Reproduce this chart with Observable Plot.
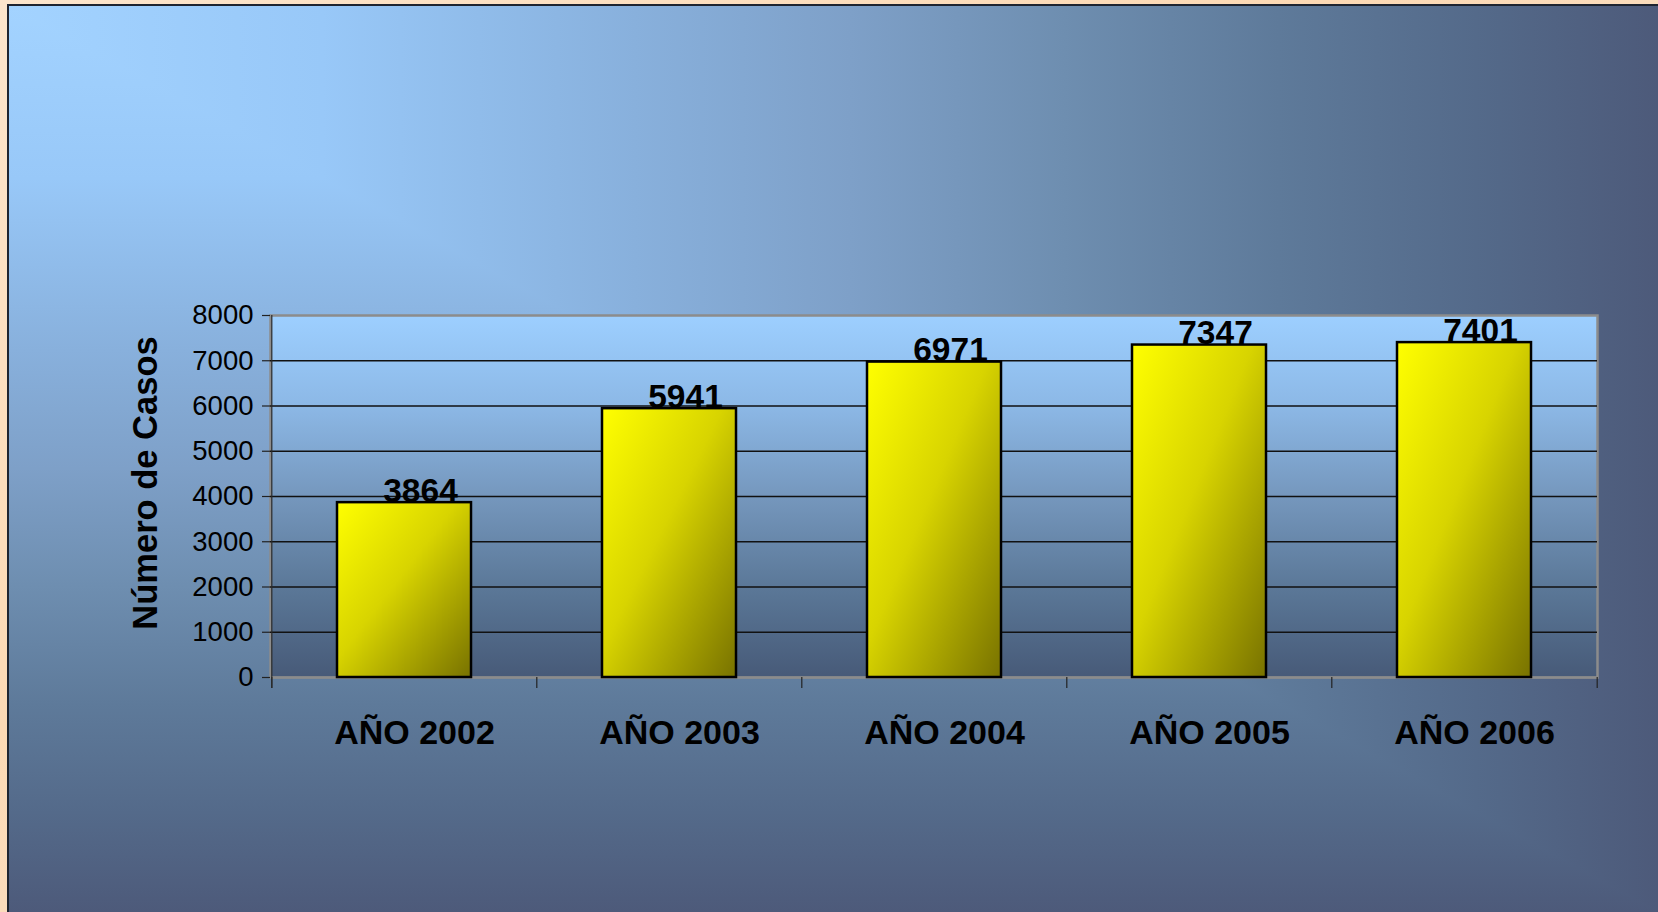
<!DOCTYPE html>
<html>
<head>
<meta charset="utf-8">
<script src="https://cdn.jsdelivr.net/npm/d3@7"></script>
<script src="https://cdn.jsdelivr.net/npm/@observablehq/plot@0.6"></script>
<style>
  html, body { margin: 0; padding: 0; }
  body {
    width: 1658px; height: 912px; overflow: hidden; position: relative;
    background: linear-gradient(to bottom right, #fce5cc 0%, #fcd9b4 40%, #f6ece0 100%);
    font-family: "Liberation Sans", Arial, sans-serif;
  }
  #slide {
    position: absolute; left: 7px; top: 4px; right: 0; bottom: 0;
    border-left: 2px solid #1e2430; border-top: 2px solid #1e2430;
    overflow: hidden;
  }
  .bgpart { position: absolute; left: 0; top: 0; width: 100%; height: 100%; }
  #bgH {
    background: linear-gradient(to right,
      #a3d3ff 0%, #98c8f8 19%, #88b0dc 38%, #7ea0c8 51%, #6e8eb0 64%, #5e7a9a 77%, #546a8a 89%, #4d5a7a 100%);
    clip-path: polygon(0 0, 100% 0, 100% 100%);
  }
  #bgV {
    background: linear-gradient(to bottom,
      #a3d3ff 0%, #98c8f8 19%, #88b0dc 38%, #7ea0c8 51%, #6e8eb0 64%, #5e7a9a 77%, #546a8a 89%, #4d5a7a 100%);
  }
  #chart { position: absolute; left: 0; top: 0; }
  #ytitle {
    position: absolute; left: 145px; top: 483px;
    transform: translate(-50%, -50%) rotate(-90deg);
    font-size: 34.5px; font-weight: bold; color: #000; white-space: nowrap;
  }
</style>
</head>
<body>
<div id="slide"><div class="bgpart" id="bgV"></div><div class="bgpart" id="bgH"></div></div>
<div id="chart"></div>
<div id="ytitle"></div>
<script>
// ---- data ----
const years = ["AÑO 2002", "AÑO 2003", "AÑO 2004", "AÑO 2005", "AÑO 2006"];
const cases = [3864, 5941, 6971, 7347, 7401];
const yTicks = [0, 1000, 2000, 3000, 4000, 5000, 6000, 7000, 8000];
const yTitle = "Número de Casos";

const data = years.map((year, i) => ({year, value: cases[i]}));

// ---- layout ----
const W = 1658, H = 912;
const mL = 270, mR = 61, mT = 315, mB = 235;
const frameW = W - mL - mR, frameH = H - mT - mB;
const step = frameW / years.length;
const font = "'Liberation Sans', Arial, sans-serif";

document.getElementById("ytitle").textContent = yTitle;

const chart = Plot.plot({
  width: W, height: H,
  marginLeft: mL, marginRight: mR, marginTop: mT, marginBottom: mB,
  style: {background: "transparent", fontFamily: font, overflow: "visible", color: "#000"},
  x: {domain: years, paddingInner: 0.495, paddingOuter: 0.2475, axis: null},
  y: {domain: [0, 8000], axis: null},
  marks: [
    Plot.frame({fill: "url(#plotGrad)", stroke: "#8c8c8c", strokeWidth: 2.5}),
    Plot.ruleY(yTicks.filter(d => d > 0 && d < 8000), {y: d => d, stroke: "#111", strokeWidth: 1.5}),
    Plot.ruleY([0], {y: d => d, stroke: "#8c8c8c", strokeWidth: 2}),
    // y tick marks
    Plot.ruleY(yTicks, {y: d => d, stroke: "#222", strokeWidth: 1.2, insetLeft: -8, insetRight: frameW}),
    // x boundary ticks + left axis line
    Plot.ruleX(years, {x: d => d, dx: -step / 2, stroke: "#222", strokeWidth: 1.2, insetTop: frameH, insetBottom: -11}),
    Plot.ruleX([years[years.length - 1]], {x: d => d, dx: step / 2, stroke: "#222", strokeWidth: 1.2, insetTop: frameH, insetBottom: -11}),
    Plot.ruleX([years[0]], {x: d => d, dx: -step / 2, stroke: "#2a2a2a", strokeWidth: 1.2, insetBottom: -11}),
    // bars
    Plot.barY(data, {x: "year", y: "value", fill: "url(#barGrad)", stroke: "#000", strokeWidth: 2.5}),
    // value labels
    Plot.text(data, {x: "year", y: "value", text: d => String(d.value), dx: 16, dy: -1,
      lineAnchor: "bottom", fontSize: 33.5, fontWeight: "bold", fill: "#000"}),
    // y tick labels
    Plot.text(yTicks, {y: d => d, text: d => String(d), frameAnchor: "left", dx: -17,
      textAnchor: "end", fontSize: 27.5, fill: "#000"}),
    // category labels
    Plot.text(years, {x: d => d, text: d => d, frameAnchor: "bottom", dx: 10, dy: 42,
      lineAnchor: "top", fontSize: 34, fontWeight: "bold", fill: "#000"})
  ]
});

const defs = d3.select(chart).insert("defs", ":first-child");
const pg = defs.append("linearGradient").attr("id", "plotGrad")
  .attr("x1", 0).attr("y1", 0).attr("x2", 0).attr("y2", 1);
pg.append("stop").attr("offset", "0%").attr("stop-color", "#9dcfff");
pg.append("stop").attr("offset", "25%").attr("stop-color", "#8cb8e6");
pg.append("stop").attr("offset", "50%").attr("stop-color", "#7597bd");
pg.append("stop").attr("offset", "75%").attr("stop-color", "#5b7898");
pg.append("stop").attr("offset", "100%").attr("stop-color", "#475a78");

const bg = defs.append("linearGradient").attr("id", "barGrad")
  .attr("x1", 0).attr("y1", 0).attr("x2", 1).attr("y2", 1);
bg.append("stop").attr("offset", "0%").attr("stop-color", "#ffff00");
bg.append("stop").attr("offset", "45%").attr("stop-color", "#d8d400");
bg.append("stop").attr("offset", "100%").attr("stop-color", "#787200");

document.getElementById("chart").appendChild(chart);
</script>
</body>
</html>
